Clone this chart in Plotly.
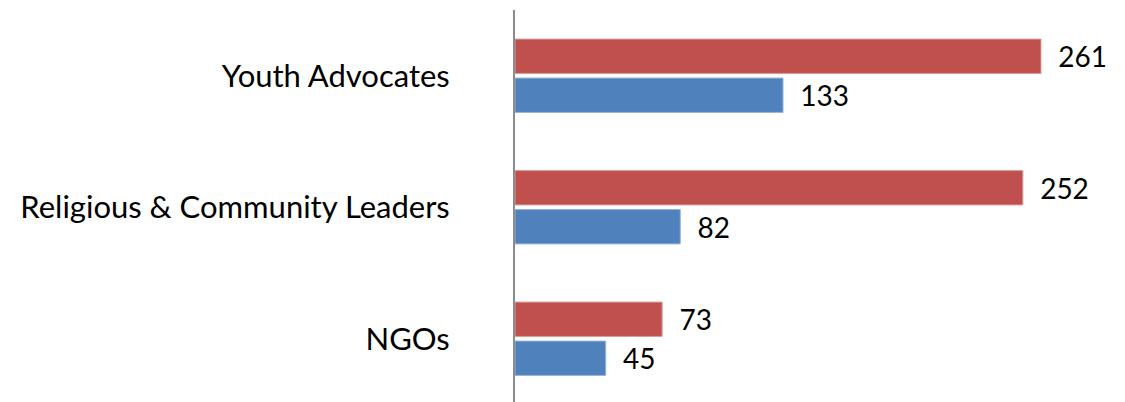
import plotly.graph_objects as go

categories = ["Youth Advocates", "Religious & Community Leaders", "NGOs"]
red_values = [261, 252, 73]
blue_values = [133, 82, 45]

FONT = "Lato"
SIZE = 31

fig = go.Figure()
fig.add_trace(go.Bar(
    y=categories, x=red_values, orientation="h", name="Series A",
    marker=dict(color="#C0504D", line=dict(color="#D89A98", width=1)),
    text=["\u00a0\u00a0" + str(v) for v in red_values], textposition="outside",
    textfont=dict(family=FONT, size=SIZE, color="black"), cliponaxis=False,
))
fig.add_trace(go.Bar(
    y=categories, x=blue_values, orientation="h", name="Series B",
    marker=dict(color="#4F81BD", line=dict(color="#95B3D7", width=1)),
    text=["\u00a0\u00a0" + str(v) for v in blue_values], textposition="outside",
    textfont=dict(family=FONT, size=SIZE, color="black"), cliponaxis=False,
))

fig.update_layout(
    width=1117, height=394,
    margin=dict(l=507, r=0, t=2, b=0),
    paper_bgcolor="white", plot_bgcolor="white",
    barmode="group", bargap=0.407, bargroupgap=0.12,
    showlegend=False,
    font=dict(family=FONT, size=SIZE, color="black"),
)
fig.update_xaxes(range=[0, 302.7], showgrid=False, zeroline=False,
                 showticklabels=False, showline=False)
fig.update_yaxes(categoryorder="array", categoryarray=categories,
                 range=[2.481, -0.5], showgrid=False, zeroline=False,
                 showline=True, linecolor="#8C8C8C", linewidth=2,
                 ticks="", ticklabelstandoff=57,
                 tickfont=dict(family=FONT, size=SIZE, color="black"))

fig.write_html("out.html")
